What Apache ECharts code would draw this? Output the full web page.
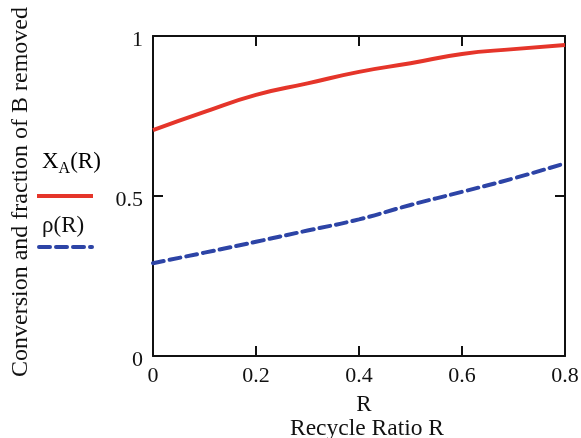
<!DOCTYPE html>
<html><head><meta charset="utf-8">
<script src="https://cdn.jsdelivr.net/npm/echarts@6/dist/echarts.min.js"></script>
<style>html,body{margin:0;padding:0;background:#fff}#c{width:581px;height:438px}</style>
</head><body><div id="c"></div>
<script>
const R = [0, 0.1, 0.2, 0.3, 0.4, 0.5, 0.6, 0.7, 0.8];
const XA = [0.706, 0.763, 0.816, 0.852, 0.888, 0.915, 0.944, 0.959, 0.972];
const rho = [0.290, 0.323, 0.357, 0.392, 0.427, 0.472, 0.513, 0.555, 0.602];
const xTicks = [0, 0.2, 0.4, 0.6, 0.8];
const yTicks = [0, 0.5, 1];
// inner tick marks on the top and right frame edges: [x value, y value, direction]
const topTickValues = [0.2, 0.4, 0.6];
const rightTickValues = [0.5];

const font = 'Liberation Serif';
const chart = echarts.init(document.getElementById('c'), null, {renderer: 'canvas'});
const frameTicks = topTickValues.map(v => [v, 1, 0]).concat(rightTickValues.map(v => [0.8, v, 1]));
chart.setOption({
  animation: false,
  grid: {left: 153, right: 16, top: 36, bottom: 82, containLabel: false, outerBoundsMode: 'none'},
  xAxis: [{
    type: 'value', min: 0, max: 0.8, interval: 0.2, position: 'bottom',
    axisLine: {show: true, onZero: false, lineStyle: {color: '#111', width: 2}},
    axisTick: {show: true, inside: true, length: 10, lineStyle: {color: '#111', width: 2}},
    axisLabel: {color: '#111', fontFamily: font, fontSize: 22, margin: 9,
      formatter: v => xTicks.includes(+v.toFixed(2)) ? String(+v.toFixed(2)) : ''},
    splitLine: {show: false},
    name: 'R', nameLocation: 'middle', nameGap: 37,
    nameTextStyle: {color: '#111', fontFamily: font, fontSize: 23, padding: [0, 0, 0, 10]}
  }, {
    type: 'value', min: 0, max: 0.8, interval: 0.2, position: 'top',
    axisLine: {show: true, onZero: false, lineStyle: {color: '#111', width: 2}},
    axisTick: {show: false},
    axisLabel: {show: false},
    splitLine: {show: false}
  }],
  yAxis: [{
    type: 'value', min: 0, max: 1, interval: 0.5, position: 'left',
    axisLine: {show: true, onZero: false, lineStyle: {color: '#111', width: 2}},
    axisTick: {show: true, inside: true, length: 10, lineStyle: {color: '#111', width: 2}},
    axisLabel: {color: '#111', fontFamily: font, fontSize: 22, margin: 10,
      formatter: v => yTicks.includes(v) ? '{l|' + v + '}' : '',
      rich: {l: {fontFamily: font, fontSize: 22, color: '#111', padding: [8, 0, 0, 0]}}},
    splitLine: {show: false}
  }, {
    type: 'value', min: 0, max: 1, interval: 0.5, position: 'right',
    axisLine: {show: true, onZero: false, lineStyle: {color: '#111', width: 2}},
    axisTick: {show: false},
    axisLabel: {show: false},
    splitLine: {show: false}
  }],
  series: [{
    type: 'line', name: 'XA', xAxisIndex: 0, yAxisIndex: 0,
    data: R.map((r, i) => [r, XA[i]]), smooth: true,
    showSymbol: false, lineStyle: {color: '#e5352a', width: 4}
  }, {
    type: 'line', name: 'rho', xAxisIndex: 1, yAxisIndex: 1,
    data: R.map((r, i) => [r, rho[i]]), smooth: true,
    showSymbol: false, lineStyle: {color: '#2d44a6', width: 4, type: [11, 6], cap: 'round'}
  }, {
    type: 'custom', name: 'frameTicks', xAxisIndex: 0, yAxisIndex: 0,
    silent: true, clip: false, z: 5,
    data: frameTicks,
    encode: {x: 0, y: 1},
    renderItem: (params, api) => {
      const p = api.coord([api.value(0), api.value(1)]);
      const d = api.value(2);
      const shape = d === 0
        ? {x1: p[0], y1: p[1], x2: p[0], y2: p[1] + 10}
        : {x1: p[0], y1: p[1], x2: p[0] - 10, y2: p[1]};
      return {type: 'line', shape: shape, style: {stroke: '#111', lineWidth: 2}};
    }
  }],
  graphic: [
    {type: 'text', x: 21, y: 192, rotation: Math.PI / 2, style: {
      text: 'Conversion and fraction of B removed', fill: '#111', font: '24px "Liberation Serif"',
      align: 'center', verticalAlign: 'middle'}},
    {type: 'text', x: 367, y: 429, style: {text: 'Recycle Ratio R', fill: '#111',
      font: '23.5px "Liberation Serif"', align: 'center', verticalAlign: 'middle'}},
    {type: 'text', x: 42, y: 162, style: {
      text: '{a|X}{s|A}{a|(R)}', verticalAlign: 'middle',
      rich: {a: {fontFamily: font, fontSize: 23, color: '#111'},
             s: {fontFamily: font, fontSize: 16, color: '#111', padding: [14, 0, 0, 0]}}}},
    {type: 'line', shape: {x1: 37, y1: 196, x2: 93, y2: 196}, style: {stroke: '#e5352a', lineWidth: 4}},
    {type: 'text', x: 42, y: 226, style: {text: 'ρ(R)', fill: '#111',
      font: '23px "Liberation Serif"', verticalAlign: 'middle'}},
    {type: 'line', shape: {x1: 39, y1: 247, x2: 92, y2: 247}, style: {stroke: '#2d44a6', lineWidth: 4, lineDash: [11, 6], lineCap: 'round'}}
  ]
});
</script></body></html>
